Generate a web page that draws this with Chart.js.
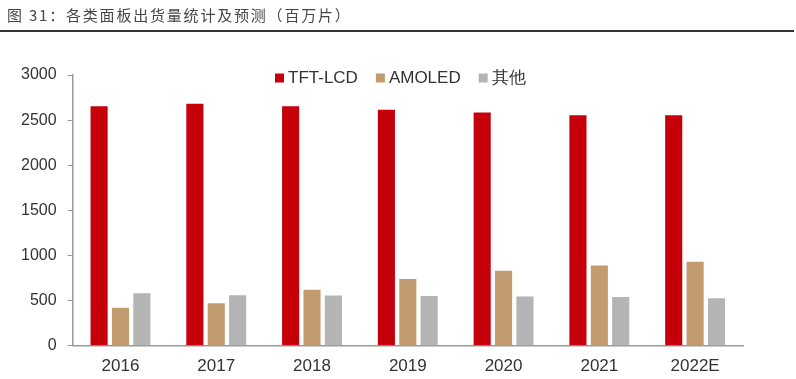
<!DOCTYPE html>
<html>
<head>
<meta charset="utf-8">
<script src="https://cdn.jsdelivr.net/npm/chart.js@4/dist/chart.umd.min.js"></script>
<style>
  html, body { margin: 0; padding: 0; background: #fff; }
  #wrap { position: relative; width: 796px; height: 379px; overflow: hidden; }
  #title { position: absolute; left: 7px; top: 4px; font-family: "Noto Sans CJK SC", sans-serif; font-size: 15px; letter-spacing: 1.8px; color: #474747; line-height: 22px; white-space: nowrap; }
  #rule { position: absolute; left: 0; top: 30px; width: 794px; height: 2px; background: #333; }
  canvas { position: absolute; left: 0; top: 0; }
</style>
</head>
<body>
<div id="wrap">
  <canvas id="c" width="796" height="379"></canvas>
  <div id="title">图 31：各类面板出货量统计及预测（百万片）</div>
  <div id="rule"></div>
</div>
<script>
const categories = ["2016", "2017", "2018", "2019", "2020", "2021", "2022E"];
const seriesNames = ["TFT-LCD", "AMOLED", "其他"];
const tftLcd = [2655, 2680, 2655, 2615, 2585, 2555, 2555];
const amoled = [420, 470, 620, 740, 830, 890, 930];
const others = [580, 560, 555, 550, 545, 540, 525];
const yTicks = [0, 500, 1000, 1500, 2000, 2500, 3000];
const colors = ["#C5000B", "#C29C70", "#B4B4B4"];

const legendPlugin = {
  id: 'customLegend',
  afterDraw(chart) {
    const ctx = chart.ctx;
    ctx.save();
    ctx.font = '17px "Liberation Sans", Arial, sans-serif';
    ctx.textBaseline = 'middle';
    ctx.textAlign = 'left';
    let x = 275;
    const y = 78;
    chart.data.datasets.forEach((ds) => {
      ctx.fillStyle = ds.backgroundColor;
      ctx.fillRect(x, y - 4.5, 9, 9);
      x += 13;
      ctx.fillStyle = '#333';
      ctx.fillText(ds.label, x, y);
      x += ctx.measureText(ds.label).width + 18;
    });
    ctx.restore();
  }
};

new Chart(document.getElementById('c'), {
  type: 'bar',
  data: {
    labels: categories,
    datasets: [
      { label: seriesNames[0], data: tftLcd, backgroundColor: colors[0] },
      { label: seriesNames[1], data: amoled, backgroundColor: colors[1] },
      { label: seriesNames[2], data: others, backgroundColor: colors[2] }
    ]
  },
  options: {
    responsive: false,
    animation: false,
    layout: { padding: { top: 75, left: 10, right: 53, bottom: 0 } },
    datasets: { bar: { categoryPercentage: 0.67, barPercentage: 0.8 } },
    plugins: { legend: { display: false }, tooltip: { enabled: false }, title: { display: false } },
    scales: {
      x: {
        afterFit(axis) { axis.height = 33.3; },
        grid: { display: true, drawOnChartArea: false, drawTicks: false },
        border: { display: true, color: '#9a9a9a', width: 1.5 },
        ticks: { padding: 12, color: '#333', font: { family: '"Liberation Sans", Arial, sans-serif', size: 17, lineHeight: 1 } }
      },
      y: {
        min: 0, max: 3000,
        afterBuildTicks(axis) { axis.ticks = yTicks.map(v => ({ value: v })); },
        grid: { display: true, drawOnChartArea: false, drawTicks: true, tickLength: 5, color: '#9a9a9a' },
        border: { display: true, color: '#9a9a9a', width: 1.5 },
        ticks: { padding: 11, color: '#333', callback: (v) => String(v), font: { family: '"Liberation Sans", Arial, sans-serif', size: 16 } }
      }
    }
  },
  plugins: [legendPlugin]
});
</script>
</body>
</html>
